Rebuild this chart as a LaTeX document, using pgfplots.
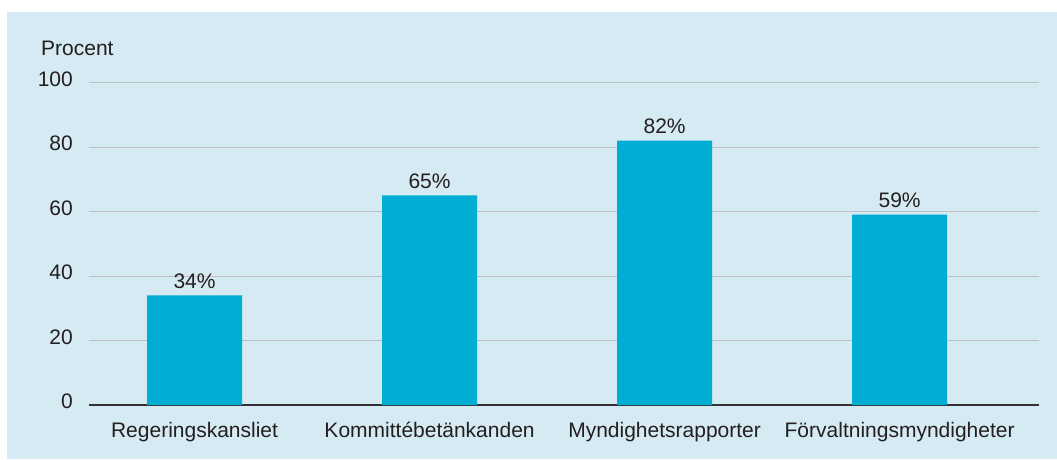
\documentclass[border=0pt]{standalone}
\usepackage{pgfplots}
\pgfplotsset{compat=1.18}
\usepackage{fontspec}
\setmainfont{Liberation Sans}
\definecolor{bg}{RGB}{213,234,242}
\definecolor{barc}{RGB}{0,174,212}
\definecolor{gridc}{RGB}{190,192,196}
\definecolor{txt}{RGB}{35,31,32}
\begin{document}
\begin{tikzpicture}[x=1pt,y=1pt]
\fill[white] (0,0) rectangle (1057,-459);
\fill[bg] (7,-12) rectangle (1057,-459);
\node[anchor=base west,text=txt,font=\fontsize{21}{24}\selectfont,inner sep=0pt] at (41,-55) {Procent};
\begin{axis}[
  at={(89pt,-405pt)}, anchor=south west,
  scale only axis, width=950pt, height=322.5pt,
  xmin=-0.449, xmax=3.593, ymin=0, ymax=100,
  axis x line*=bottom,
  axis y line*=left,
  y axis line style={draw=none},
  x axis line style={color=black!80, line width=1.5pt, -},
  ytick={0,20,40,60,80,100},
  ymajorgrids, grid style={gridc, line width=0.8pt},
  xtick=data,
  xticklabels={Regeringskansliet,Kommittébetänkanden,Myndighetsrapporter,Förvaltningsmyndigheter},
  major tick length=0pt,
  tick label style={text=txt, font=\fontsize{21}{24}\selectfont, inner sep=0pt},
  yticklabel style={anchor=east, xshift=-16pt, yshift=3.5pt},
  xticklabel style={anchor=base, yshift=-32pt},
  yticklabel={\pgfmathprintnumber{\tick}},
  /pgf/number format/assume math mode=true,
  ybar, bar width=95pt,
  nodes near coords={\pgfmathprintnumber{\pgfplotspointmeta}\%},
  nodes near coords style={text=txt, font=\fontsize{21}{24}\selectfont, anchor=base, inner sep=0pt, yshift=7pt},
  clip=false,
]
\addplot[fill=barc, draw=none] coordinates {(0,34) (1,65) (2,82) (3,59)};
\end{axis}
\end{tikzpicture}
\end{document}
